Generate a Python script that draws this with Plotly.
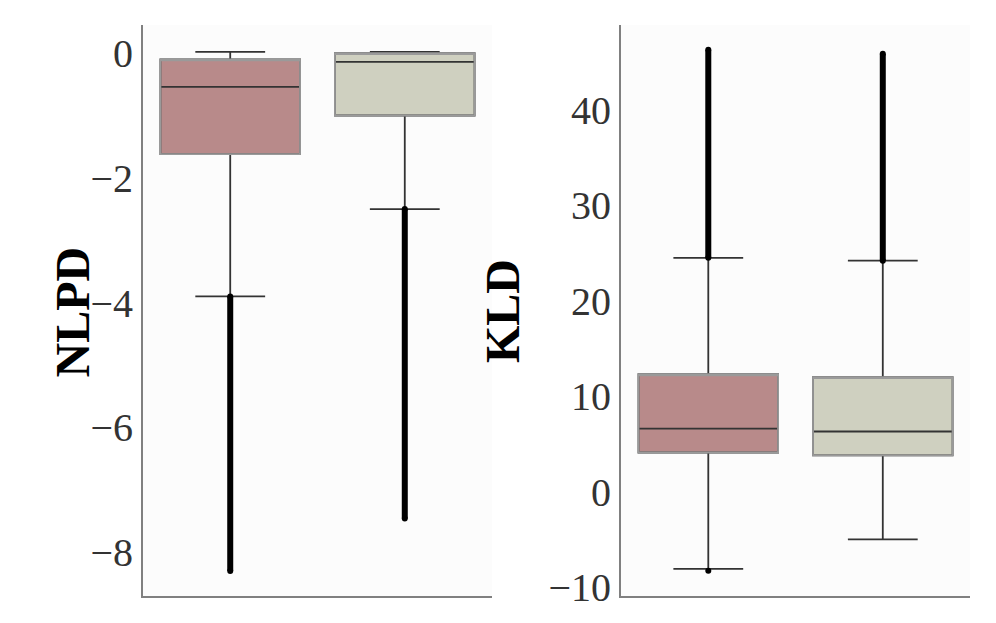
import plotly.graph_objects as go

# box statistics
positions = [0, 1]
box_colors = ["#b88a8a", "#cfd0c0"]

nlpd_q1 = [-1.62, -1.0]
nlpd_median = [-0.54, -0.14]
nlpd_q3 = [-0.10, 0.0]
nlpd_lower = [-3.9, -2.5]
nlpd_upper = [0.02, 0.02]
nlpd_out_lo = [-8.3, -7.46]     # outliers run from lower fence down to here
nlpd_out_hi = [-3.9, -2.5]

kld_q1 = [4.1, 3.8]
kld_median = [6.6, 6.3]
kld_q3 = [12.3, 12.0]
kld_lower = [-8.1, -5.0]
kld_upper = [24.5, 24.2]
kld_out_lo = [24.5, 24.2]       # outliers run from upper fence up to here
kld_out_hi = [46.3, 45.9]
kld_single_out = [-8.3]         # lone low outlier of the first box

nlpd_ticks = [0, -2, -4, -6, -8]
kld_ticks = [40, 30, 20, 10, 0, -10]

dark = "#333333"
edge = "#9a9a9a"

fig = go.Figure()


def add_boxes(q1, med, q3, lo, hi, xa, ya):
    for i, p in enumerate(positions):
        # full box: whiskers and median in dark grey
        fig.add_trace(go.Box(
            x=[p], q1=[q1[i]], median=[med[i]], q3=[q3[i]],
            lowerfence=[lo[i]], upperfence=[hi[i]],
            width=0.8, whiskerwidth=0.5, fillcolor=box_colors[i],
            line=dict(color=dark, width=1.8), boxpoints=False,
            xaxis=xa, yaxis=ya, hoverinfo="skip",
        ))
        # redraw the outline in light grey
        fig.add_trace(go.Box(
            x=[p], q1=[q1[i]], median=[q3[i]], q3=[q3[i]],
            lowerfence=[q1[i]], upperfence=[q3[i]],
            width=0.8, whiskerwidth=0.0, fillcolor="rgba(0,0,0,0)",
            line=dict(color=edge, width=1.8), boxpoints=False,
            xaxis=xa, yaxis=ya, hoverinfo="skip",
        ))


def add_outliers(lo, hi, xa, ya):
    for i, p in enumerate(positions):
        fig.add_trace(go.Scatter(
            x=[p, p], y=[lo[i], hi[i]], mode="lines+markers",
            line=dict(color="black", width=6),
            marker=dict(color="black", size=6),
            xaxis=xa, yaxis=ya, hoverinfo="skip",
        ))


add_boxes(nlpd_q1, nlpd_median, nlpd_q3, nlpd_lower, nlpd_upper, "x", "y")
add_outliers(nlpd_out_lo, nlpd_out_hi, "x", "y")
add_boxes(kld_q1, kld_median, kld_q3, kld_lower, kld_upper, "x2", "y2")
add_outliers(kld_out_lo, kld_out_hi, "x2", "y2")
fig.add_trace(go.Scatter(
    x=[positions[0]], y=kld_single_out, mode="markers",
    marker=dict(color="black", size=6), xaxis="x2", yaxis="y2",
))

xaxis_style = dict(
    range=[-0.5, 1.5], showline=True, linecolor="#808080", linewidth=2,
    showticklabels=False, ticks="", showgrid=False, zeroline=False,
    automargin=False,
)
yaxis_style = dict(
    showline=True, linecolor="#808080", linewidth=2, ticks="",
    showgrid=False, zeroline=False, tickfont=dict(size=40, color=dark),
    automargin=False,
)


def fmt(v):
    return str(v).replace("-", "\u2212")


# the page body adds an 8px offset, so domains are shifted to compensate
fig.update_layout(
    width=996, height=623,
    margin=dict(l=0, r=0, t=0, b=0),
    paper_bgcolor="white", plot_bgcolor="#fcfcfc",
    font=dict(family="Liberation Serif", color="black"),
    showlegend=False, boxmode="overlay",
    xaxis=dict(domain=[0.1355, 0.486], **xaxis_style),
    xaxis2=dict(domain=[0.6155, 0.9659], anchor="y2", **xaxis_style),
    yaxis=dict(range=[-8.70, 0.45], tickvals=nlpd_ticks,
               ticktext=[fmt(v) for v in nlpd_ticks], domain=[0.0562, 0.9727],
               **yaxis_style),
    yaxis2=dict(range=[-10.94, 48.9], tickvals=kld_ticks,
                ticktext=[fmt(v) for v in kld_ticks], domain=[0.0562, 0.9727],
                anchor="x2", **yaxis_style),
    annotations=[
        dict(text="<b>NLPD</b>", x=0.0361, y=0.512, xref="paper", yref="paper",
             textangle=-90, showarrow=False, font=dict(size=48, color="black")),
        dict(text="<b>KLD</b>", x=0.496, y=0.5136, xref="paper", yref="paper",
             textangle=-90, showarrow=False, font=dict(size=48, color="black")),
    ],
)

fig.write_html("out.html")
